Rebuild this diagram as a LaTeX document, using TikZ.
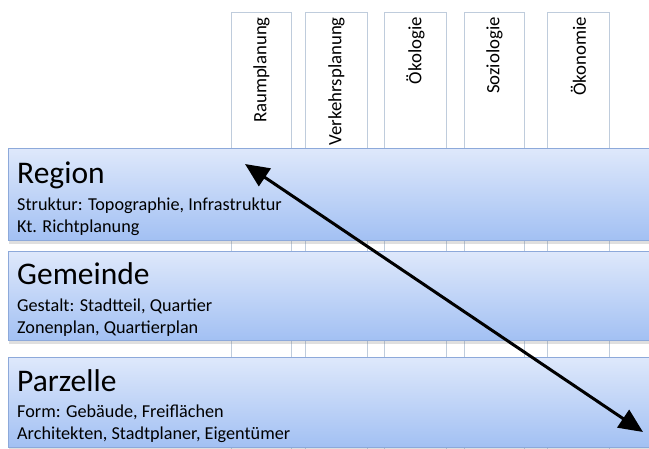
\documentclass[tikz,border=0pt]{standalone}
\usepackage{fontspec}
\setmainfont{Carlito}
\usetikzlibrary{arrows.meta,shadows}
\definecolor{barTop}{HTML}{DEE8FB}
\definecolor{barBottom}{HTML}{A2C0F3}
\definecolor{barEdge}{HTML}{8DA9DA}
\definecolor{colEdge}{HTML}{BFCCDC}
\tikzset{
  column/.style={draw=colEdge, line width=0.9pt, fill=white, anchor=north west,
    minimum width=60pt, minimum height=440pt, inner sep=0pt},
  colLabel/.style={rotate=90, anchor=east, inner sep=0pt,
    font=\fontsize{18.8}{22}\selectfont},
  level/.style={draw=barEdge, line width=1.4pt, top color=barTop, bottom color=barBottom,
    anchor=north west, minimum width=660pt, inner sep=0pt,
    drop shadow={shadow xshift=0pt, shadow yshift=-3pt, opacity=0.25}},
  levelTitle/.style={anchor=base west, inner sep=0pt,
    font=\fontsize{31.5}{36}\selectfont},
  levelText/.style={anchor=base west, inner sep=0pt, align=left,
    font=\fontsize{18.2}{22}\selectfont},
  scaleArrow/.style={line width=3pt, {Triangle[length=24pt,width=21pt]}-{Triangle[length=24pt,width=21pt]}}
}
\begin{document}
\begin{tikzpicture}[x=1pt,y=-1pt]
  \useasboundingbox (0,0) rectangle (649,448);
  \clip (0,0) rectangle (649,448);
  \fill[white] (0,0) rectangle (649,448);

  % disciplines, standing behind the levels
  \node[column] (c1) at (231,12) {};
  \node[column, minimum width=62pt] (c2) at (305,12) {};
  \node[column, minimum width=62pt] (c3) at (384,12) {};
  \node[column] (c4) at (464,12) {};
  \node[column, minimum width=62pt] (c5) at (547,12) {};
  \node[colLabel] (t1) at ([yshift=-5pt]c1.north) {Raumplanung};
  \node[colLabel] (t2) at ([yshift=-5pt]c2.north) {Verkehrsplanung};
  \node[colLabel] (t3) at ([yshift=-5pt]c3.north) {Ökologie};
  \node[colLabel] (t4) at ([yshift=-5pt]c4.north) {Soziologie};
  \node[colLabel] (t5) at ([yshift=-5pt]c5.north) {Ökonomie};

  % planning levels
  \node[level, minimum height=92pt] (region) at (8,148) {};
  \node[level, minimum height=89pt] (gemeinde) at (8,251) {};
  \node[level, minimum height=90pt] (parzelle) at (8,357) {};

  \node[levelTitle] (rT) at (17,183) {Region};
  \node[levelText] (rA) at (17,210) {Struktur: Topographie, Infrastruktur};
  \node[levelText] (rB) at (17,232) {Kt. Richtplanung};

  \node[levelTitle] (gT) at (17,284) {Gemeinde};
  \node[levelText] (gA) at (17,311) {Gestalt: Stadtteil, Quartier};
  \node[levelText] (gB) at (17,333) {Zonenplan, Quartierplan};

  \node[levelTitle] (pT) at (17,391) {Parzelle};
  \node[levelText] (pA) at (17,417) {Form: Gebäude, Freiflächen};
  \node[levelText] (pB) at (17,439) {Architekten, Stadtplaner, Eigentümer};

  % scale arrow across the levels
  \coordinate (large) at (245,164);
  \coordinate (small) at (643,432);
  \draw[scaleArrow] (large) -- (small);
\end{tikzpicture}
\end{document}
